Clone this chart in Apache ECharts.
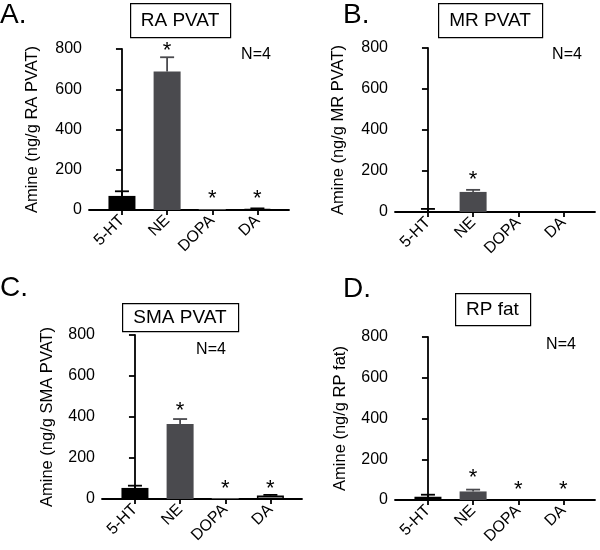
<!DOCTYPE html>
<html>
<head>
<meta charset="utf-8">
<script src="https://cdn.jsdelivr.net/npm/echarts@6/dist/echarts.min.js"></script>
<style>html,body{margin:0;padding:0;background:#fff}#c{width:600px;height:550px}</style>
</head>
<body>
<div id="c"></div>
<script>
const categories = ['5-HT', 'NE', 'DOPA', 'DA'];
const yTicks = [0, 200, 400, 600, 800];

const valuesA = [70, 688, 2, 5];
const errorsA = [23, 71, 0, 3];
const starsA = [null, 820, 83, 83];

const valuesB = [4, 98, 0, 1];
const errorsB = [11, 10, 0, 0];
const starsB = [null, 187, null, null];

const valuesC = [54, 366, 2, 17];
const errorsC = [11, 24, 0, 3];
const starsC = [null, 459, 78, 78];

const valuesD = [16, 42, 0, 0];
const errorsD = [10, 9, 0, 0];
const starsD = [null, 137, 78, 78];

const panelTitles = ['RA PVAT', 'MR PVAT', 'SMA PVAT', 'RP fat'];
const panelLetters = ['A.', 'B.', 'C.', 'D.'];
const nLabels = ['N=4', 'N=4', 'N=4', 'N=4'];
const yNames = ['Amine (ng/g RA PVAT)', 'Amine (ng/g MR PVAT)', 'Amine (ng/g SMA PVAT)', 'Amine (ng/g RP fat)'];

const FONT = '"Liberation Sans", Arial, Helvetica, sans-serif';
const barFill = ['#000000', '#4a4a4e', '#d2d2d2', '#ffffff'];
const barBorder = ['#000000', '#4a4a4e', '#d2d2d2', '#000000'];
const errColor = ['#000000', '#4a4a4e', '#d2d2d2', '#000000'];

const panels = [
  {vals: valuesA, errs: errorsA, stars: starsA, nameGap: 48, grid: {left: 89, top: 49, width: 200, height: 161}},
  {vals: valuesB, errs: errorsB, stars: starsB, nameGap: 48, grid: {left: 395, top: 48, width: 200, height: 164}},
  {vals: valuesC, errs: errorsC, stars: starsC, nameGap: 46, grid: {left: 102, top: 335, width: 200, height: 164}},
  {vals: valuesD, errs: errorsD, stars: starsD, nameGap: 46, grid: {left: 395, top: 337, width: 200, height: 163}}
];

const grids = [], xAxes = [], yAxes = [], series = [];
panels.forEach((p, i) => {
  grids.push(p.grid);
  xAxes.push({
    type: 'value', gridIndex: i, min: -0.73, max: 3.7,
    splitLine: {show: false},
    axisLine: {show: true, lineStyle: {color: '#000', width: 1.8}},
    axisTick: {show: true, customValues: [0, 1, 2, 3], length: 5, lineStyle: {color: '#000', width: 1.8}},
    axisLabel: {customValues: [0, 1, 2, 3], formatter: v => categories[Math.round(v)], rotate: 45,
      fontSize: 16, color: '#000', fontFamily: FONT, margin: 8}
  });
  yAxes.push({
    type: 'value', gridIndex: i, min: 0, max: 800, interval: 200,
    splitLine: {show: false},
    axisLine: {show: true, lineStyle: {color: '#000', width: 1.8}},
    axisTick: {show: true, length: 6, lineStyle: {color: '#000', width: 1.8}},
    axisLabel: {fontSize: 16, color: '#000', fontFamily: FONT, margin: 7},
    name: yNames[i], nameLocation: 'middle', nameRotate: 90, nameGap: p.nameGap,
    nameTextStyle: {fontSize: 16.5, color: '#000', fontFamily: FONT}
  });
  series.push({
    type: 'bar', xAxisIndex: i, yAxisIndex: i, barWidth: 27,
    data: p.vals.map((v, k) => ({value: [k, v], itemStyle: {color: barFill[k], borderColor: barBorder[k], borderWidth: k === 3 ? 1.5 : 0}})),
    animation: false
  });
  series.push({
    type: 'custom', xAxisIndex: i, yAxisIndex: i, animation: false, z: 5,
    data: p.vals.map((v, k) => [k, v, p.errs[k]]),
    renderItem: (params, api) => {
      const x = api.value(0), v = api.value(1), e = api.value(2);
      if (!e) return null;
      const k = Math.round(x);
      const p0 = api.coord([x, v]), p1 = api.coord([x, v + e]);
      const st = {stroke: errColor[k], lineWidth: 1.8};
      return {type: 'group', children: [
        {type: 'line', shape: {x1: p0[0], y1: p0[1], x2: p1[0], y2: p1[1]}, style: st},
        {type: 'line', shape: {x1: p1[0] - 7, y1: p1[1], x2: p1[0] + 7, y2: p1[1]}, style: st}
      ]};
    }
  });
  series.push({
    type: 'custom', xAxisIndex: i, yAxisIndex: i, animation: false, z: 6,
    data: p.stars.map((s, k) => [k, s]).filter(d => d[1] !== null),
    renderItem: (params, api) => {
      const c = api.coord([api.value(0), api.value(1)]);
      return {type: 'text', x: c[0], y: c[1] + 6,
        style: {text: '*', fontSize: 22, fontFamily: FONT, fill: '#000', align: 'center', verticalAlign: 'middle'}};
    }
  });
});

const boxes = [
  {x: 130, y: 3, w: 100, h: 34},
  {x: 438, y: 3, w: 104, h: 34},
  {x: 122, y: 303, w: 116, h: 28},
  {x: 455, y: 293, w: 75, h: 32}
];
const letterPos = [[0, 15], [343, 15], [0, 288], [343, 289]];
const nPos = [[256, 55], [567, 55], [211, 350], [561, 345]];

const graphic = [];
boxes.forEach((b, i) => {
  graphic.push({type: 'rect', left: b.x, top: b.y, shape: {width: b.w, height: b.h},
    style: {fill: '#fff', stroke: '#000', lineWidth: 1.2}, z: 10});
  graphic.push({type: 'text', x: b.x + b.w / 2, y: b.y + b.h / 2 + 1,
    style: {text: panelTitles[i], fontSize: 19, fontFamily: FONT, fill: '#000', align: 'center', verticalAlign: 'middle'}, z: 11});
  graphic.push({type: 'text', x: letterPos[i][0], y: letterPos[i][1],
    style: {text: panelLetters[i], fontSize: 28, fontFamily: FONT, fill: '#000', align: 'left', verticalAlign: 'middle'}, z: 11});
  graphic.push({type: 'text', x: nPos[i][0], y: nPos[i][1],
    style: {text: nLabels[i], fontSize: 16, fontFamily: FONT, fill: '#000', align: 'center', verticalAlign: 'middle'}, z: 11});
});

const chart = echarts.init(document.getElementById('c'), null, {renderer: 'canvas'});
chart.setOption({
  animation: false,
  backgroundColor: '#fff',
  textStyle: {fontFamily: FONT},
  grid: grids, xAxis: xAxes, yAxis: yAxes, series: series, graphic: graphic
});
</script>
</body>
</html>
